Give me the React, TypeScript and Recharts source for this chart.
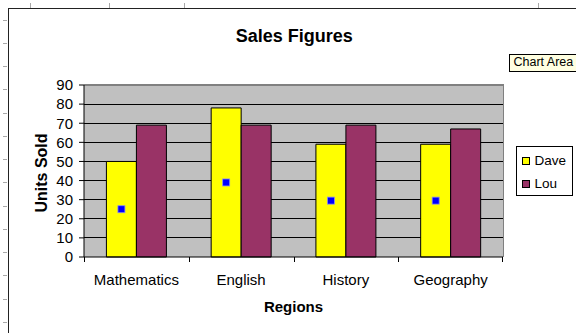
import React from 'react';
import { BarChart, Bar, XAxis, YAxis, CartesianGrid, LabelList, ReferenceLine } from 'recharts';

// Units sold per subject region
const regions = ['Mathematics', 'English', 'History', 'Geography'];
const daveUnits = [50, 78, 59, 59];
const louUnits = [69, 69, 69, 67];
const yTicks = [0, 10, 20, 30, 40, 50, 60, 70, 80, 90];

const seriesNames = ['Dave', 'Lou'];
const seriesKeys = ['dave', 'lou'];
const seriesColors = ['#FFFF00', '#993366'];

const data = regions.map((region, i) => ({ region, dave: daveUnits[i], lou: louUnits[i] }));

const FONT = '"Liberation Sans", Arial, sans-serif';

// Spreadsheet gridline stubs peeking out around the embedded chart
const rowEdges = [20, 43, 66, 89, 113, 136, 159, 182, 206, 229, 252, 275, 299, 322];
const colEdges = [30, 109, 184, 538];

// Category tick: boundary tick marks between bands, label centred in the band
const CategoryTick = (props: any) => {
  const { x, y, payload, index, visibleTicksCount } = props;
  const half = payload && typeof payload.offset === 'number' && payload.offset > 0 ? payload.offset : 52.4;
  const left = Math.round(x - half) + 0.5;
  const right = Math.round(x + half) - 0.5;
  return (
    <g>
      <line x1={left} x2={left} y1={y - 5} y2={y} stroke="#000" />
      {index === visibleTicksCount - 1 && <line x1={right} x2={right} y1={y - 5} y2={y} stroke="#000" />}
      <text x={x} y={y + 23} textAnchor="middle" fontSize={15} fontFamily={FONT} fill="#000">
        {payload.value}
      </text>
    </g>
  );
};

// Small blue square marking the midpoint of each bar
const MidMarker = (props: any) => {
  const vb = props.viewBox && props.viewBox.width !== undefined ? props.viewBox : props;
  const cx = vb.x + vb.width / 2;
  const cy = vb.y + vb.height / 2;
  return (
    <rect x={cx - 3.5} y={cy - 3.5} width={7} height={7} fill="#0000FF" stroke="#8c8cf0" strokeWidth={0.8} />
  );
};

const LegendBox = () => (
  <div
    style={{
      position: 'absolute',
      left: 516,
      top: 146,
      width: 57,
      height: 50,
      border: '1px solid #000',
      boxSizing: 'border-box',
      background: '#fff',
      fontFamily: FONT,
      fontSize: 13.5,
      color: '#000',
    }}
  >
    {seriesNames.map((name, i) => (
      <div
        key={name}
        style={{
          position: 'absolute',
          left: 4.5,
          top: 5 + i * 23.3,
          height: 18,
          display: 'flex',
          alignItems: 'center',
          lineHeight: '18px',
          whiteSpace: 'nowrap',
        }}
      >
        <span
          style={{
            display: 'inline-block',
            width: 8,
            height: 8,
            border: '1px solid #000',
            boxSizing: 'border-box',
            background: seriesColors[i],
            marginRight: 5,
          }}
        />
        {name}
      </div>
    ))}
  </div>
);

const XTitle = (props: any) => {
  const vb = props.viewBox || { x: 84, y: 257, width: 419 };
  return (
    <text x={vb.x + vb.width / 2} y={vb.y + 54.5} textAnchor="middle" fontSize={15} fontWeight="bold" fontFamily={FONT} fill="#000">
      Regions
    </text>
  );
};

const YTitle = (props: any) => {
  const vb = props.viewBox || { x: 0, y: 85, height: 172 };
  const cx = 46.5;
  const cy = vb.y + vb.height / 2 + 2;
  return (
    <text x={cx} y={cy} transform={`rotate(-90, ${cx}, ${cy})`} textAnchor="middle" fontSize={16} fontWeight="bold" fontFamily={FONT} fill="#000">
      Units Sold
    </text>
  );
};

export default function App() {
  return (
    <div style={{ position: 'relative', width: 576, height: 333, background: '#fff', overflow: 'hidden' }}>
      <style>{'body{margin:0}'}</style>
      <BarChart
        width={576}
        height={333}
        data={data}
        margin={{ top: 85, right: 73, bottom: 0, left: 0 }}
        barCategoryGap="21.4%"
        barGap={0}
      >
        <CartesianGrid
          vertical={false}
          horizontalValues={[10, 20, 30, 40, 50, 60, 70, 80]}
          stroke="#000"
          strokeOpacity={1}
          fill="#C0C0C0"
          fillOpacity={1}
          shapeRendering="crispEdges"
        />
        <ReferenceLine y={90} stroke="#808080" shapeRendering="crispEdges" />
        <XAxis
          dataKey="region"
          height={76}
          interval={0}
          tickSize={5}
          tickMargin={0}
          tickLine={{ stroke: 'none' }}
          axisLine={{ stroke: '#000' }}
          tick={<CategoryTick />}
          label={<XTitle />}
        />
        <YAxis
          width={84}
          domain={[0, 90]}
          ticks={yTicks}
          interval={0}
          tickSize={5}
          tickMargin={6}
          tickLine={{ stroke: '#000' }}
          axisLine={{ stroke: '#000' }}
          tick={{ fill: '#000', fontSize: 15, fontFamily: FONT }}
          label={<YTitle />}
        />
        <Bar dataKey={seriesKeys[0]} name={seriesNames[0]} fill={seriesColors[0]} stroke="#000" strokeWidth={1} isAnimationActive={false}>
          <LabelList dataKey={seriesKeys[0]} content={<MidMarker />} />
        </Bar>
        <Bar dataKey={seriesKeys[1]} name={seriesNames[1]} fill={seriesColors[1]} stroke="#000" strokeWidth={1} isAnimationActive={false} />
      </BarChart>

      <LegendBox />

      <svg
        width={576}
        height={333}
        style={{ position: 'absolute', left: 0, top: 0, pointerEvents: 'none' }}
        shapeRendering="crispEdges"
      >
        {rowEdges.map((y) => (
          <line key={`r${y}`} x1={3} x2={7} y1={y + 0.5} y2={y + 0.5} stroke="#a8a8a8" />
        ))}
        {colEdges.map((x) => (
          <line key={`c${x}`} x1={x + 0.5} x2={x + 0.5} y1={3} y2={8} stroke="#a8a8a8" />
        ))}
        <line x1={8} x2={576} y1={8.5} y2={8.5} stroke="#222" />
        <line x1={8.5} x2={8.5} y1={8} y2={333} stroke="#222" />
        <line x1={84} x2={503.5} y1={84.5} y2={84.5} stroke="#808080" />
        <line x1={503.5} x2={503.5} y1={84.5} y2={257} stroke="#808080" />
        <text x={294.3} y={41.7} textAnchor="middle" fontSize={18} fontWeight="bold" fontFamily={FONT} fill="#000">
          Sales Figures
        </text>
        <rect x={509.5} y={54.5} width={70} height={17} fill="#FFFFE1" stroke="#000" />
        <text x={513.5} y={66} fontSize={12.5} fontFamily={FONT} fill="#000">
          Chart Area
        </text>
      </svg>
    </div>
  );
}
